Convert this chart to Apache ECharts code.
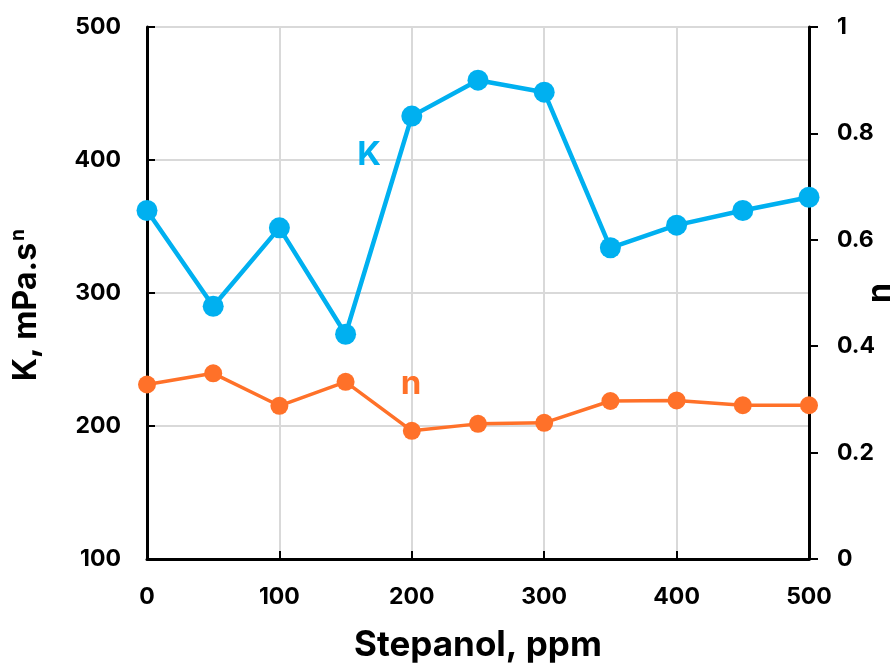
<!DOCTYPE html>
<html>
<head>
<meta charset="utf-8">
<script src="https://cdn.jsdelivr.net/npm/echarts@6/dist/echarts.min.js"></script>
<style>
html,body{margin:0;padding:0;background:#fff;}
#chart{width:893px;height:663px;}
</style>
</head>
<body>
<div id="chart"></div>
<script>
const stepanol = [0, 50, 100, 150, 200, 250, 300, 350, 400, 450, 500];
const kValues = [362, 290, 349, 269, 433, 460, 451, 334, 351, 362, 372];
const nValues = [0.328, 0.349, 0.288, 0.333, 0.241, 0.254, 0.256, 0.297, 0.298, 0.289, 0.289];
const leftTicks = [100, 200, 300, 400, 500];
const rightTicks = [0, 0.2, 0.4, 0.6, 0.8, 1];
const xTicks = [0, 100, 200, 300, 400, 500];

const FONT = 'Inter';
const BLUE = '#00B0F0';
const ORANGE = '#FF7129';

const chart = echarts.init(document.getElementById('chart'), null, {renderer: 'canvas'});
const tickLabel = {color: '#000', fontFamily: FONT, fontWeight: 'bold', fontSize: 23};
const axisLine = {show: true, lineStyle: {color: '#000', width: 3}};

chart.setOption({
  animation: false,
  grid: {left: 147, right: 84, top: 27, bottom: 104, outerBoundsMode: 'none', containLabel: false},
  xAxis: {
    type: 'value', min: xTicks[0], max: xTicks[xTicks.length - 1], interval: 100,
    name: 'Stepanol, ppm', nameLocation: 'middle', nameGap: 69, nameMoveOverlap: false,
    nameTextStyle: {color: '#000', fontFamily: FONT, fontWeight: 'bold', fontSize: 35},
    axisLine: axisLine,
    axisTick: {show: true, inside: true, length: 8, lineStyle: {color: '#000', width: 2}},
    axisLabel: Object.assign({margin: 27}, tickLabel),
    splitLine: {show: true, lineStyle: {color: '#d9d9d9', width: 2}}
  },
  yAxis: [{
    type: 'value', min: leftTicks[0], max: leftTicks[leftTicks.length - 1], interval: 100,
    position: 'left',
    name: '{a|K, mPa.s}{s|n}', nameLocation: 'middle', nameGap: 104, nameRotate: 90, nameMoveOverlap: false,
    nameTextStyle: {
      padding: [0, 24, 0, 0],
      rich: {
        a: {color: '#000', fontFamily: FONT, fontWeight: 'bold', fontSize: 32},
        s: {color: '#000', fontFamily: FONT, fontWeight: 'bold', fontSize: 19, verticalAlign: 'top', padding: [0, 0, 15, 2]}
      }
    },
    axisLine: axisLine,
    axisTick: {show: true, inside: true, length: 8, lineStyle: {color: '#000', width: 2}},
    axisLabel: Object.assign({margin: 26}, tickLabel),
    splitLine: {show: true, lineStyle: {color: '#d9d9d9', width: 2}}
  }, {
    type: 'value', min: rightTicks[0], max: rightTicks[rightTicks.length - 1], interval: 0.2,
    position: 'right',
    name: 'n', nameLocation: 'middle', nameGap: 55, nameRotate: 90, nameMoveOverlap: false,
    nameTextStyle: {color: '#000', fontFamily: FONT, fontWeight: 'bold', fontSize: 32},
    axisLine: axisLine,
    axisTick: {show: true, inside: false, length: 9, lineStyle: {color: '#000', width: 2}},
    axisLabel: Object.assign({margin: 28}, tickLabel),
    splitLine: {show: false}
  }],
  series: [{
    name: 'K', type: 'line', yAxisIndex: 0,
    data: stepanol.map((x, i) => [x, kValues[i]]),
    symbol: 'circle', symbolSize: 21,
    lineStyle: {color: BLUE, width: 4.5},
    itemStyle: {color: BLUE},
    markPoint: {
      symbol: 'circle', symbolSize: 0,
      data: [{coord: [167.7, 404], label: {show: true, formatter: 'K', color: BLUE, fontFamily: FONT, fontWeight: 'bold', fontSize: 33}}]
    },
    z: 3
  }, {
    name: 'n', type: 'line', yAxisIndex: 1,
    data: stepanol.map((x, i) => [x, nValues[i]]),
    symbol: 'circle', symbolSize: 18,
    lineStyle: {color: ORANGE, width: 3.5},
    itemStyle: {color: ORANGE},
    markPoint: {
      symbol: 'circle', symbolSize: 0,
      data: [{coord: [199.4, 0.328], label: {show: true, formatter: 'n', color: ORANGE, fontFamily: FONT, fontWeight: 'bold', fontSize: 33}}]
    },
    z: 4
  }]
});
</script>
</body>
</html>
